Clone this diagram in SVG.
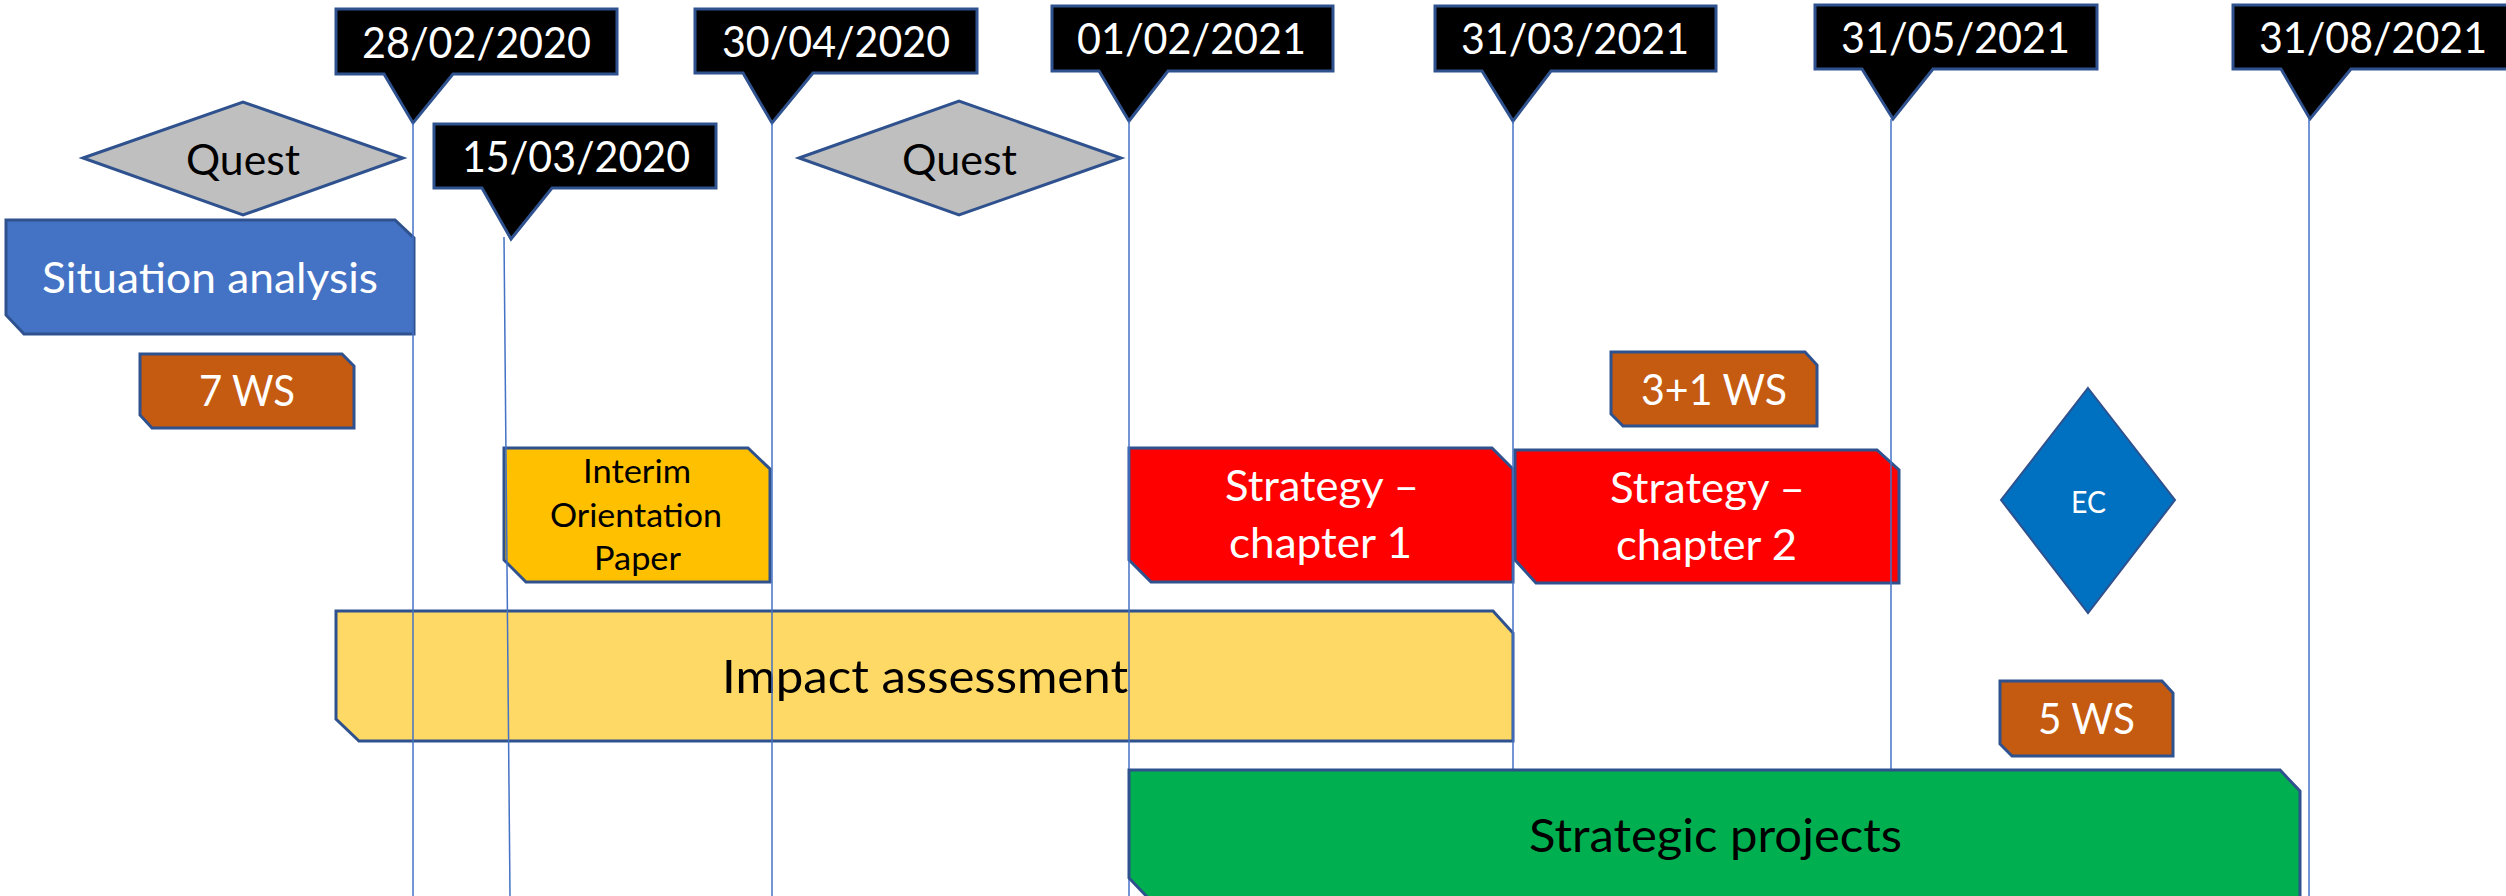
<svg xmlns="http://www.w3.org/2000/svg" width="2506" height="896" viewBox="0 0 2506 896">
<style>
text{font-family:Lato,"Open Sans","Liberation Sans",sans-serif;text-anchor:middle}
.co{fill:#000;stroke:#2F528F;stroke-width:3;stroke-linejoin:miter}
.sh{stroke:#2F528F;stroke-width:3;stroke-linejoin:miter}
.dt{fill:#fff;font-size:42px}
.w{fill:#fff}
.k{fill:#000}
.f42{font-size:42px}
.f47{font-size:47px}
.f32{font-size:32px}
.f30{font-size:30px}
.vl{stroke:#4472C4;stroke-width:1.5;fill:none}
</style>
<rect width="2506" height="896" fill="#fff"/>

<g id="date-28-02-2020">
<path class="co" d="M336,9 H617 V74 H453 L413,123 L384,74 H336 Z"/>
<text class="dt" x="476.5" y="58" textLength="229" lengthAdjust="spacingAndGlyphs">28/02/2020</text>
</g>
<g id="date-15-03-2020">
<path class="co" d="M434,124 H716 V188 H552 L511,239 L482,188 H434 Z"/>
<text class="dt" x="576" y="172" textLength="228" lengthAdjust="spacingAndGlyphs">15/03/2020</text>
</g>
<g id="date-30-04-2020">
<path class="co" d="M695,9 H977 V73 H813 L772,123 L743,73 H695 Z"/>
<text class="dt" x="836" y="57" textLength="228" lengthAdjust="spacingAndGlyphs">30/04/2020</text>
</g>
<g id="date-01-02-2021">
<path class="co" d="M1052,6 H1333 V71 H1168 L1129,121 L1099,71 H1052 Z"/>
<text class="dt" x="1191.5" y="54" textLength="229" lengthAdjust="spacingAndGlyphs">01/02/2021</text>
</g>
<g id="date-31-03-2021">
<path class="co" d="M1435,6 H1716 V71 H1551 L1513,121 L1482,71 H1435 Z"/>
<text class="dt" x="1575" y="54" textLength="228" lengthAdjust="spacingAndGlyphs">31/03/2021</text>
</g>
<g id="date-31-05-2021">
<path class="co" d="M1815,5 H2097 V69 H1933 L1893,119 L1862,69 H1815 Z"/>
<text class="dt" x="1955.5" y="53" textLength="229" lengthAdjust="spacingAndGlyphs">31/05/2021</text>
</g>
<g id="date-31-08-2021">
<path class="co" d="M2233,5 H2516 V69 H2351 L2310,119 L2281,69 H2233 Z"/>
<text class="dt" x="2373" y="53" textLength="228" lengthAdjust="spacingAndGlyphs">31/08/2021</text>
</g>

<g id="quest-1">
<path class="sh" fill="#BFBFBF" d="M83,158 L243,102 L403,158 L243,215 Z"/>
<text class="k f42" x="243" y="175" textLength="114" lengthAdjust="spacingAndGlyphs">Quest</text>
</g>
<g id="quest-2">
<path class="sh" fill="#BFBFBF" d="M799,158 L959,101 L1121,158 L959,215 Z"/>
<text class="k f42" x="959.5" y="175" textLength="115" lengthAdjust="spacingAndGlyphs">Quest</text>
</g>

<g id="situation-analysis">
<path class="sh" fill="#4472C4" d="M6,220 H395 L414,238 V334 H24 L6,315 Z"/>
<text class="w f42" x="210" y="293" textLength="336" lengthAdjust="spacingAndGlyphs">Situation analysis</text>
</g>
<g id="ws-7">
<path class="sh" fill="#C55A11" d="M140,354 H342 L354,366 V428 H152 L140,415 Z"/>
<text class="w f42" x="247" y="406" textLength="96" lengthAdjust="spacingAndGlyphs">7 WS</text>
</g>
<g id="ws-3-1">
<path class="sh" fill="#C55A11" d="M1611,352 H1805 L1817,365 V426 H1623 L1611,414 Z"/>
<text class="w f42" x="1714" y="405" textLength="146" lengthAdjust="spacingAndGlyphs">3+1 WS</text>
</g>
<g id="ws-5">
<path class="sh" fill="#C55A11" d="M2000,681 H2162 L2173,693 V756 H2012 L2000,744 Z"/>
<text class="w f42" x="2086.5" y="734" textLength="97" lengthAdjust="spacingAndGlyphs">5 WS</text>
</g>
<g id="interim-orientation-paper">
<path class="sh" fill="#FFC000" d="M504,448 H748 L770,469 V582 H526 L504,560 Z"/>
<text class="k f32" x="637" y="483" textLength="108" lengthAdjust="spacingAndGlyphs">Interim</text>
<text class="k f32" x="636" y="527" textLength="172" lengthAdjust="spacingAndGlyphs">Orientation</text>
<text class="k f32" x="637.5" y="570" textLength="87" lengthAdjust="spacingAndGlyphs">Paper</text>
</g>
<g id="strategy-chapter-1">
<path class="sh" fill="#FF0000" d="M1129,448 H1492 L1513,469 V582 H1151 L1129,560 Z"/>
<text class="w f42" x="1322" y="501" textLength="194" lengthAdjust="spacingAndGlyphs">Strategy –</text>
<text class="w f42" x="1320.5" y="558" textLength="183" lengthAdjust="spacingAndGlyphs">chapter 1</text>
</g>
<g id="strategy-chapter-2">
<path class="sh" fill="#FF0000" d="M1515,450 H1877 L1899,470 V583 H1536 L1515,560 Z"/>
<text class="w f42" x="1707.5" y="503" textLength="195" lengthAdjust="spacingAndGlyphs">Strategy –</text>
<text class="w f42" x="1706.5" y="560" textLength="181" lengthAdjust="spacingAndGlyphs">chapter 2</text>
</g>
<g id="ec">
<path fill="#0070C0" stroke="#2F528F" stroke-width="2" d="M2088,388 L2175,500 L2088,613 L2001,500 Z"/>
<text class="w f30" x="2088.5" y="513" textLength="35" lengthAdjust="spacingAndGlyphs">EC</text>
</g>
<g id="impact-assessment">
<path class="sh" fill="#FFD966" d="M336,611 H1493 L1513,633 V741 H359 L336,719 Z"/>
<text class="k f47" x="925" y="693" textLength="406" lengthAdjust="spacingAndGlyphs">Impact assessment</text>
</g>

<g id="connectors">
<line class="vl" x1="413" y1="123" x2="413" y2="896"/>
<line class="vl" x1="504" y1="237" x2="510" y2="896"/>
<line class="vl" x1="772" y1="123" x2="772" y2="896"/>
<line class="vl" x1="1129" y1="121" x2="1129" y2="896"/>
<line class="vl" x1="1513" y1="121" x2="1513" y2="896"/>
<line class="vl" x1="1891" y1="119" x2="1891" y2="896"/>
<line class="vl" x1="2309" y1="119" x2="2309" y2="896"/>
</g>

<g id="strategic-projects">
<path class="sh" fill="#00B050" d="M1129,770 H2280 L2300,791 V902 H1152 L1129,878 Z"/>
<text class="k f47" x="1715.5" y="852" textLength="373" lengthAdjust="spacingAndGlyphs">Strategic projects</text>
</g>
</svg>
